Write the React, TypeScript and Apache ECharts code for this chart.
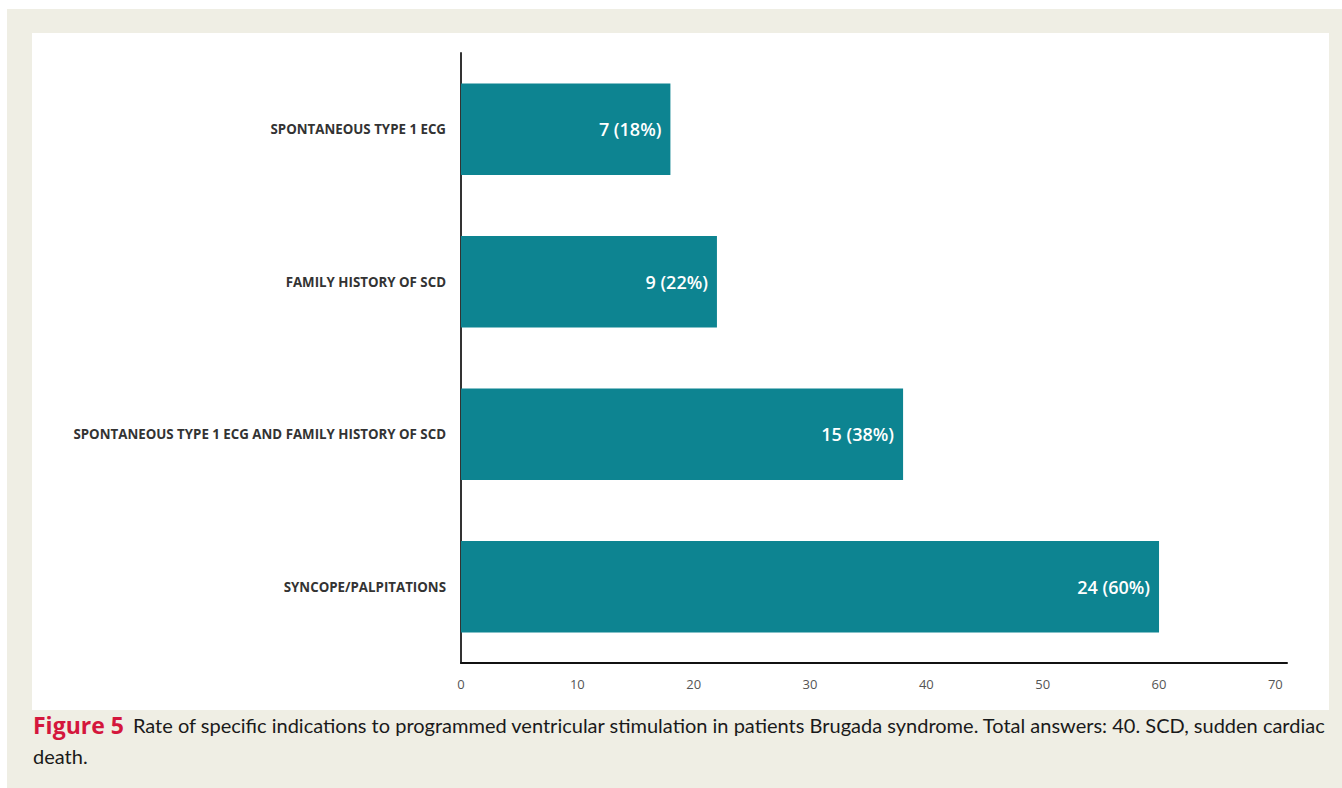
import React, { useEffect, useRef } from "react";
import * as echarts from "echarts";

const categories = [
  "SPONTANEOUS TYPE 1 ECG",
  "FAMILY HISTORY OF SCD",
  "SPONTANEOUS TYPE 1 ECG AND FAMILY HISTORY OF SCD",
  "SYNCOPE/PALPITATIONS",
];
const counts = [7, 9, 15, 24];
const percents = [18, 22, 38, 60];
const captionLabel = "Figure 5";
const captionLine1 =
  "Rate of specific indications to programmed ventricular stimulation in patients Brugada syndrome. Total answers: 40. SCD, sudden cardiac";
const captionLine2 = "death.";

export default function App() {
  const ref = useRef<HTMLDivElement>(null);
  useEffect(() => {
    if (!ref.current) return;
    const chart = echarts.init(ref.current, null, { renderer: "svg" });
    chart.setOption({
      animation: false,
      backgroundColor: "#ffffff",
      graphic: [
        { type: "rect", z: -10, shape: { x: 7, y: 9, width: 1335, height: 779 }, style: { fill: "#efeee4" } },
        { type: "rect", z: -9, shape: { x: 32, y: 33, width: 1297, height: 677 }, style: { fill: "#ffffff" } },
        {
          type: "text",
          x: 33,
          y: 725,
          style: {
            text: "{a|" + captionLabel + "}{s| }{b|" + captionLine1 + "}",
            verticalAlign: "middle",
            rich: {
              a: { fontFamily: "Open Sans", fontWeight: "bold", fontSize: 23, fill: "#d4163c", lineHeight: 26 },
              s: { fontFamily: "Lato", fontSize: 20, lineHeight: 26, width: 9 },
              b: { fontFamily: "Lato", fontSize: 20, fill: "#1a1a1a", lineHeight: 26 },
            },
          },
        },
        {
          type: "text",
          x: 33,
          y: 756,
          style: {
            text: captionLine2,
            verticalAlign: "middle",
            fontFamily: "Lato",
            fontSize: 20,
            fill: "#1a1a1a",
          },
        },
      ],
      grid: { left: 461, right: 55, top: 53, bottom: 125, containLabel: false },
      xAxis: {
        type: "value",
        min: 0,
        max: 71,
        interval: 10,
        axisLine: { show: true, lineStyle: { color: "#111", width: 2 } },
        axisTick: { show: false },
        splitLine: { show: false },
        axisLabel: { showMaxLabel: false, color: "#555", fontFamily: "Open Sans", fontSize: 13, margin: 14 },
      },
      yAxis: {
        type: "category",
        data: categories,
        inverse: true,
        axisLine: { show: true, lineStyle: { color: "#333", width: 2 } },
        axisTick: { show: false },
        axisLabel: { color: "#333", fontFamily: "Open Sans", fontWeight: "bold", fontSize: 13.3, margin: 15 },
      },
      series: [
        {
          type: "bar",
          data: percents,
          barCategoryGap: "40%",
          itemStyle: { color: "#0d8491" },
          label: {
            show: true,
            position: "insideRight",
            distance: 9,
            color: "#ffffff",
            fontFamily: "Open Sans",
            fontWeight: 600,
            fontSize: 18,
            formatter: (p: any) => counts[p.dataIndex] + " (" + p.value + "%)",
          },
        },
      ],
    });
    return () => chart.dispose();
  }, []);
  return <div ref={ref} style={{ position: "absolute", left: 0, top: 0, width: 1342, height: 788 }} />;
}
